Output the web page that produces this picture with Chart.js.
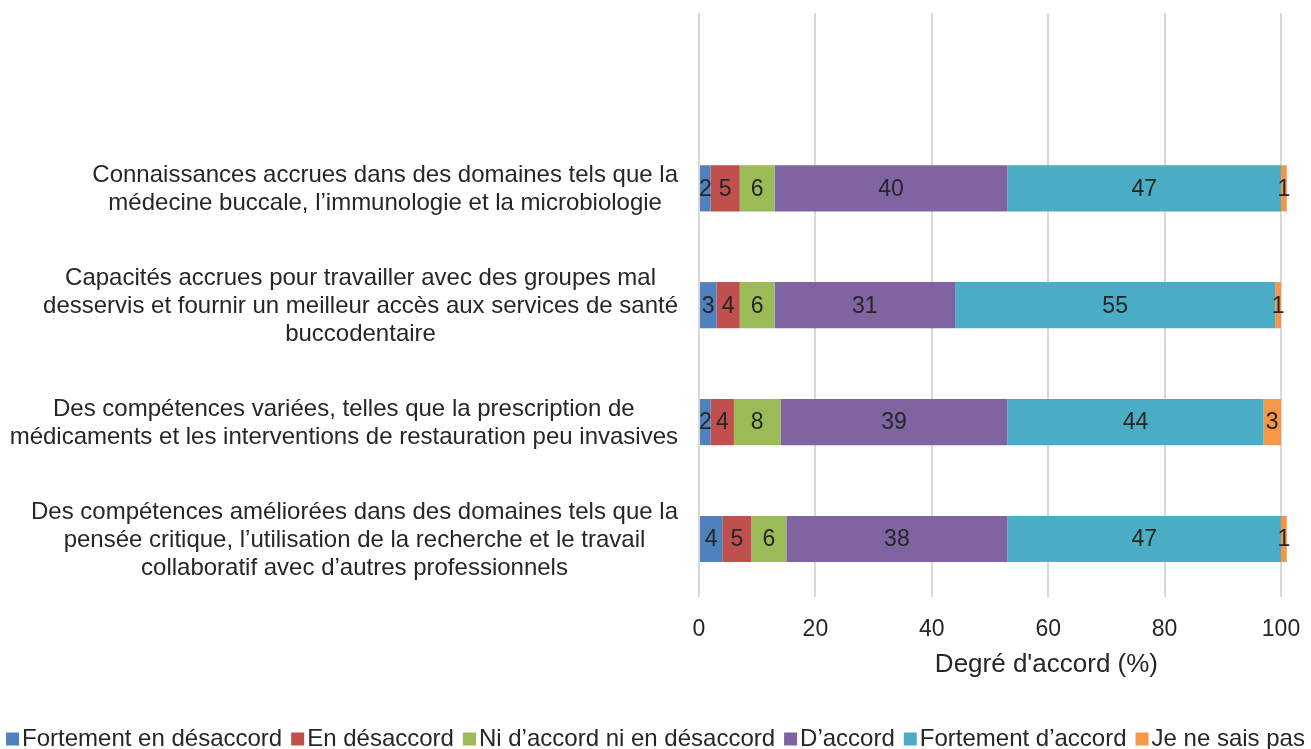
<!DOCTYPE html>
<html>
<head>
<meta charset="utf-8">
<script src="https://cdn.jsdelivr.net/npm/chart.js@4.4.1/dist/chart.umd.min.js"></script>
<style>
  html, body { margin: 0; padding: 0; background: #fff; }
  #wrap { width: 1311px; height: 749px; position: relative; }
</style>
</head>
<body>
<div id="wrap"><canvas id="chart"></canvas></div>
<script>
// first slot stays empty, like in the source chart
const categories = [
  [""],
  ["Connaissances accrues dans des domaines tels que la",
   "médecine buccale, l’immunologie et la microbiologie"],
  ["Capacités accrues pour travailler avec des groupes mal",
   "desservis et fournir un meilleur accès aux services de santé",
   "buccodentaire"],
  ["Des compétences variées, telles que la prescription de",
   "médicaments et les interventions de restauration peu invasives"],
  ["Des compétences améliorées dans des domaines tels que la",
   "pensée critique, l’utilisation de la recherche et le travail",
   "collaboratif avec d’autres professionnels"]
];

const seriesNames = ["Fortement en désaccord", "En désaccord", "Ni d’accord ni en désaccord",
                     "D’accord", "Fortement d’accord", "Je ne sais pas"];
const seriesColors = ["#4F81BD", "#C0504D", "#9BBB59", "#8064A2", "#4BACC6", "#F79646"];

const fortementDesaccord = [null, 2, 3, 2, 4];
const enDesaccord        = [null, 5, 4, 4, 5];
const niAccordNi         = [null, 6, 6, 8, 6];
const dAccord            = [null, 40, 31, 39, 38];
const fortementAccord    = [null, 47, 55, 44, 47];
const neSaisPas          = [null, 1, 1, 3, 1];

const xTicks = [0, 20, 40, 60, 80, 100];
const xTitle = "Degré d'accord (%)";

const seriesData = [fortementDesaccord, enDesaccord, niAccordNi, dAccord, fortementAccord, neSaisPas];

const FONT = "Liberation Sans, Arial, sans-serif";
const TXT = "#262626";
const FS_TICK = 23;   // axis numbers and value labels
const FS_CAT = 24;    // category labels and legend
const FS_TITLE = 26;

Chart.defaults.font.family = FONT;
Chart.defaults.color = TXT;

// value labels, y category labels, axis title and legend are drawn here
const extras = {
  id: "extras",
  afterDatasetsDraw(chart) {
    const ctx = chart.ctx;
    ctx.save();
    ctx.font = FS_TICK + "px " + FONT;
    ctx.fillStyle = TXT;
    ctx.textAlign = "center";
    ctx.textBaseline = "middle";
    chart.data.datasets.forEach((ds, i) => {
      const meta = chart.getDatasetMeta(i);
      meta.data.forEach((bar, j) => {
        if (ds.data[j] == null) return;
        const c = bar.getCenterPoint();
        ctx.fillText(ds.data[j], c.x, c.y + 1);
      });
    });
    ctx.restore();
  },
  afterDraw(chart) {
    const ctx = chart.ctx;
    const area = chart.chartArea;
    const yScale = chart.scales.y;
    ctx.save();
    ctx.font = FS_CAT + "px " + FONT;
    ctx.fillStyle = TXT;
    ctx.textBaseline = "middle";
    ctx.textAlign = "center";
    const right = area.left - 21;
    const lh = 28;
    categories.forEach((lines, i) => {
      const yc = yScale.getPixelForTick(i);
      const w = Math.max(...lines.map(l => ctx.measureText(l).width));
      const cx = right - w / 2;
      lines.forEach((l, k) => {
        ctx.fillText(l, cx, yc + (k - (lines.length - 1) / 2) * lh + 1);
      });
    });

    // legend
    const box = 13, gapText = 3, gapItem = 9;
    const widths = seriesNames.map(n => ctx.measureText(n).width);
    let total = widths.reduce((a, b) => a + b, 0) + seriesNames.length * (box + gapText) + (seriesNames.length - 1) * gapItem;
    let x = (chart.width - total) / 2;
    const ly = 738;
    ctx.textAlign = "left";
    seriesNames.forEach((n, i) => {
      ctx.fillStyle = seriesColors[i];
      ctx.fillRect(x, ly - box / 2 + 1, box, box);
      x += box + gapText;
      ctx.fillStyle = TXT;
      ctx.fillText(n, x, ly + 1);
      x += widths[i] + gapItem;
    });

    // axis title
    ctx.font = FS_TITLE + "px " + FONT;
    ctx.textAlign = "center";
    ctx.fillText(xTitle, area.left + area.width * 0.597, 665);
    ctx.restore();
  }
};

new Chart(document.getElementById("chart"), {
  type: "bar",
  data: {
    labels: categories.map(c => c.join(" ")),
    datasets: seriesNames.map((n, i) => ({
      label: n,
      data: seriesData[i],
      backgroundColor: seriesColors[i],
      borderWidth: 0,
      barPercentage: 0.395,
      categoryPercentage: 1,
      clip: false
    }))
  },
  options: {
    indexAxis: "y",
    responsive: true,
    maintainAspectRatio: false,
    animation: false,
    layout: { padding: { top: 13, right: 30, bottom: 88, left: 0 } },
    plugins: { legend: { display: false }, tooltip: { enabled: false } },
    scales: {
      x: {
        stacked: true,
        min: 0,
        max: 100,
        afterBuildTicks(scale) { scale.ticks = xTicks.map(v => ({ value: v })); },
        grid: { color: "#d9d9d9", lineWidth: 2, drawTicks: false },
        border: { display: false },
        ticks: { font: { size: FS_TICK }, color: TXT, padding: 18 },
        afterFit(scale) { scale.paddingLeft = 0; scale.paddingRight = 0; }
      },
      y: {
        stacked: true,
        grid: { display: false },
        border: { display: false },
        ticks: { display: false },
        afterFit(scale) { scale.width = 699; }
      }
    }
  },
  plugins: [extras]
});
</script>
</body>
</html>
